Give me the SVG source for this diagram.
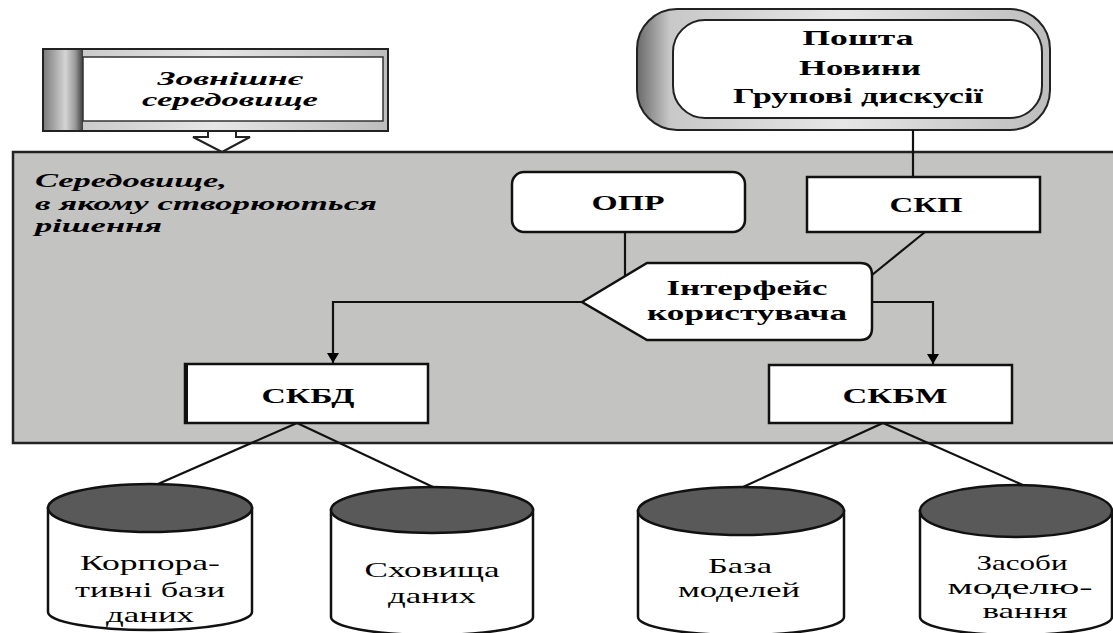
<svg xmlns="http://www.w3.org/2000/svg" width="1113" height="633" viewBox="0 0 1113 633">
  <defs>
    <linearGradient id="sideShade" x1="0" y1="0" x2="1" y2="0">
      <stop offset="0" stop-color="#7e7e7e"/>
      <stop offset="0.55" stop-color="#d4d4d4"/>
      <stop offset="0.8" stop-color="#9a9a9a"/>
      <stop offset="1" stop-color="#3c3c3c"/>
    </linearGradient>
    <linearGradient id="frameShade" x1="0" y1="0" x2="1" y2="0">
      <stop offset="0" stop-color="#6a6a6a"/>
      <stop offset="0.08" stop-color="#c8c8c8"/>
      <stop offset="0.5" stop-color="#e6e6e6"/>
      <stop offset="1" stop-color="#bdbdbd"/>
    </linearGradient>
    <marker id="arrow" viewBox="0 0 10 18" refX="10" refY="9" markerWidth="10" markerHeight="18" markerUnits="userSpaceOnUse" orient="auto">
      <path d="M0,3 L10,9 L0,15 Z" fill="#000"/>
    </marker>
    <style>
      .box { fill: #fff; stroke: #111; stroke-width: 2.5; }
      .line { fill: none; stroke: #111; stroke-width: 2.2; }
      .bold { font-family: "Liberation Serif", "DejaVu Serif", serif; font-weight: bold; font-size: 22px; fill: #000; }
      .ital { font-family: "Liberation Serif", "DejaVu Serif", serif; font-weight: bold; font-style: italic; font-size: 19px; fill: #000; }
      .store { font-family: "Liberation Serif", "DejaVu Serif", serif; font-size: 22px; fill: #000; }
      .cylTop { fill: #595959; stroke: #111; stroke-width: 2.5; }
      .cylBody { fill: #fff; stroke: #111; stroke-width: 2.5; }
    </style>
  </defs>

  <rect width="1113" height="633" fill="#fff"/>

  <!-- decision-making environment panel -->
  <g id="panel">
    <rect x="13" y="152" width="1112" height="291" fill="#c3c3c1" stroke="#222" stroke-width="2.5"/>
    <text class="ital" x="35" y="187" textLength="192" lengthAdjust="spacingAndGlyphs">Середовище,</text>
    <text class="ital" x="35" y="210" textLength="342" lengthAdjust="spacingAndGlyphs">в якому створюються</text>
    <text class="ital" x="35" y="232" textLength="127" lengthAdjust="spacingAndGlyphs">рішення</text>
  </g>

  <!-- external environment -->
  <g id="external">
    <rect x="43" y="49" width="345" height="82" fill="url(#frameShade)" stroke="#222" stroke-width="2"/>
    <rect x="44" y="50" width="39" height="80" fill="url(#sideShade)"/>
    <rect x="83" y="57" width="300" height="64" fill="#fff" stroke="#333" stroke-width="1.5"/>
    <text class="ital" x="230" y="85" text-anchor="middle" textLength="145" lengthAdjust="spacingAndGlyphs">Зовнішнє</text>
    <text class="ital" x="230" y="106" text-anchor="middle" textLength="176" lengthAdjust="spacingAndGlyphs">середовище</text>
    <!-- hollow arrow into the panel -->
    <path d="M208,131 L236,131 L236,137 L250,137 L222,152 L193,137 L208,137 Z" fill="#fff" stroke="#222" stroke-width="2"/>
  </g>

  <!-- communication services -->
  <g id="services">
    <rect x="637" y="9" width="413" height="121" rx="40" ry="40" fill="url(#frameShade)" stroke="#222" stroke-width="2"/>
    <rect x="673" y="20" width="369" height="98" rx="32" ry="32" fill="#fff" stroke="#222" stroke-width="2"/>
    <text class="bold" x="858" y="45" text-anchor="middle" textLength="111" lengthAdjust="spacingAndGlyphs">Пошта</text>
    <text class="bold" x="860" y="75" text-anchor="middle" textLength="122" lengthAdjust="spacingAndGlyphs">Новини</text>
    <text class="bold" x="858" y="103" text-anchor="middle" textLength="250" lengthAdjust="spacingAndGlyphs">Групові дискусії</text>
  </g>

  <!-- connectors -->
  <g id="connectors">
    <line class="line" x1="913" y1="130" x2="913" y2="177"/>
    <line class="line" x1="625" y1="232" x2="625" y2="277"/>
    <line class="line" x1="925" y1="232" x2="872" y2="275"/>
    <polyline class="line" points="582,302 333,302 333,363" marker-end="url(#arrow)"/>
    <polyline class="line" points="872,302 933,302 933,364" marker-end="url(#arrow)"/>
    <line class="line" x1="297" y1="423" x2="158" y2="484"/>
    <line class="line" x1="297" y1="423" x2="433" y2="487"/>
    <line class="line" x1="883" y1="423" x2="743" y2="487"/>
    <line class="line" x1="883" y1="423" x2="1025" y2="486"/>
  </g>

  <g id="opr">
    <rect class="box" x="512" y="172" width="233" height="60" rx="12" ry="12"/>
    <text class="bold" x="628" y="210" text-anchor="middle" textLength="73" lengthAdjust="spacingAndGlyphs">ОПР</text>
  </g>

  <g id="skp">
    <rect class="box" x="807" y="177" width="233" height="55"/>
    <text class="bold" x="926" y="212" text-anchor="middle" textLength="73" lengthAdjust="spacingAndGlyphs">СКП</text>
  </g>

  <g id="interface">
    <path class="box" d="M582,302 L647,263 L860,263 Q872,263 872,275 L872,328 Q872,340 860,340 L647,340 Z"/>
    <text class="bold" x="747" y="295" text-anchor="middle" textLength="161" lengthAdjust="spacingAndGlyphs">Інтерфейс</text>
    <text class="bold" x="747" y="320" text-anchor="middle" textLength="200" lengthAdjust="spacingAndGlyphs">користувача</text>
  </g>

  <g id="skbd">
    <rect class="box" x="185" y="364" width="243" height="59"/>
    <line x1="186" y1="364" x2="186" y2="423" stroke="#111" stroke-width="4"/>
    <text class="bold" x="308" y="403" text-anchor="middle" textLength="93" lengthAdjust="spacingAndGlyphs">СКБД</text>
  </g>

  <g id="skbm">
    <rect class="box" x="769" y="365" width="243" height="58"/>
    <text class="bold" x="895" y="403" text-anchor="middle" textLength="105" lengthAdjust="spacingAndGlyphs">СКБМ</text>
  </g>

  <!-- data stores -->
  <g id="corporate-db">
    <path class="cylBody" d="M48,508 L48,612 A102,18 0 0 0 252,612 L252,508 Z"/>
    <ellipse class="cylTop" cx="150" cy="508" rx="102" ry="24"/>
    <text class="store" x="150" y="570" text-anchor="middle" textLength="140" lengthAdjust="spacingAndGlyphs">Корпора-</text>
    <text class="store" x="150" y="597" text-anchor="middle" textLength="150" lengthAdjust="spacingAndGlyphs">тивні бази</text>
    <text class="store" x="150" y="622" text-anchor="middle" textLength="88" lengthAdjust="spacingAndGlyphs">даних</text>
  </g>

  <g id="warehouse">
    <path class="cylBody" d="M331,510 L331,617 A101,18 0 0 0 533,617 L533,510 Z"/>
    <ellipse class="cylTop" cx="432" cy="510" rx="101" ry="23"/>
    <text class="store" x="432" y="577" text-anchor="middle" textLength="135" lengthAdjust="spacingAndGlyphs">Сховища</text>
    <text class="store" x="432" y="603" text-anchor="middle" textLength="88" lengthAdjust="spacingAndGlyphs">даних</text>
  </g>

  <g id="model-base">
    <path class="cylBody" d="M638,511 L638,617 A103,18 0 0 0 844,617 L844,511 Z"/>
    <ellipse class="cylTop" cx="741" cy="511" rx="103" ry="24"/>
    <text class="store" x="740" y="573" text-anchor="middle" textLength="64" lengthAdjust="spacingAndGlyphs">База</text>
    <text class="store" x="739" y="597" text-anchor="middle" textLength="122" lengthAdjust="spacingAndGlyphs">моделей</text>
  </g>

  <g id="modeling-tools">
    <path class="cylBody" d="M920,511 L920,617 A96,18 0 0 0 1112,617 L1112,511 Z"/>
    <ellipse class="cylTop" cx="1016" cy="511" rx="96" ry="26"/>
    <text class="store" x="1022" y="570" text-anchor="middle" textLength="91" lengthAdjust="spacingAndGlyphs">Засоби</text>
    <text class="store" x="1020" y="594" text-anchor="middle" textLength="145" lengthAdjust="spacingAndGlyphs">моделю-</text>
    <text class="store" x="1025" y="618" text-anchor="middle" textLength="85" lengthAdjust="spacingAndGlyphs">вання</text>
  </g>
</svg>
